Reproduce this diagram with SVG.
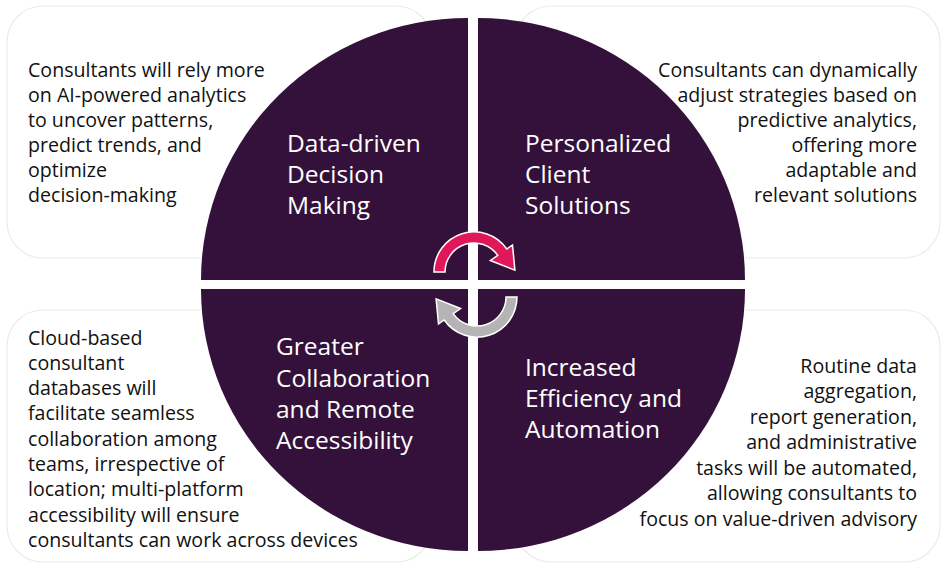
<svg xmlns="http://www.w3.org/2000/svg" width="947" height="568" viewBox="0 0 947 568">
<style>
.box{fill:#ffffff;stroke:#ebebeb;stroke-width:1.2}
.q{fill:#34113b}
.body{font-family:"Open Sans","Noto Sans","Liberation Sans",sans-serif;font-size:19.6px;fill:#111111}
.title{font-family:"Open Sans","Noto Sans","Liberation Sans",sans-serif;font-size:24.5px;fill:#ffffff}
.r{text-anchor:end}
</style>
<rect width="947" height="568" fill="#ffffff"/>
<g id="box-tl"><rect class="box" x="7" y="6" width="425" height="252" rx="36"/></g>
<g id="box-tr"><rect class="box" x="515" y="6" width="425" height="252" rx="36"/></g>
<g id="box-bl"><rect class="box" x="7" y="310" width="425" height="252" rx="36"/></g>
<g id="box-br"><rect class="box" x="515" y="310" width="425" height="252" rx="36"/></g>

<g id="node-data-driven">
<path class="q" d="M468,280 L201,280 A267 262 0 0 1 468,18 Z"/>
<text class="title"><tspan x="287" y="152">Data-driven</tspan><tspan x="287" y="183">Decision</tspan><tspan x="287" y="214">Making</tspan></text>
</g>
<g id="node-personalized">
<path class="q" d="M478,280 L478,18 A267 262 0 0 1 745,280 Z"/>
<text class="title"><tspan x="525" y="152">Personalized</tspan><tspan x="525" y="183">Client</tspan><tspan x="525" y="214">Solutions</tspan></text>
</g>
<g id="node-collaboration">
<path class="q" d="M468,289 L201,289 A267 262 0 0 0 468,551 Z"/>
<text class="title"><tspan x="276" y="355">Greater</tspan><tspan x="276" y="387">Collaboration</tspan><tspan x="276" y="418">and Remote</tspan><tspan x="276" y="449">Accessibility</tspan></text>
</g>
<g id="node-efficiency">
<path class="q" d="M478,289 L745,289 A267 262 0 0 1 478,551 Z"/>
<text class="title"><tspan x="525" y="376">Increased</tspan><tspan x="525" y="407">Efficiency and</tspan><tspan x="525" y="438">Automation</tspan></text>
</g>

<g id="desc-tl">
<text class="body"><tspan x="28" y="77">Consultants will rely more</tspan><tspan x="28" y="102">on AI-powered analytics</tspan><tspan x="28" y="127">to uncover patterns,</tspan><tspan x="28" y="152">predict trends, and</tspan><tspan x="28" y="177">optimize</tspan><tspan x="28" y="202">decision-making</tspan></text>
</g>
<g id="desc-tr">
<text class="body r"><tspan x="917" y="77">Consultants can dynamically</tspan><tspan x="917" y="102">adjust strategies based on</tspan><tspan x="917" y="127">predictive analytics,</tspan><tspan x="917" y="152">offering more</tspan><tspan x="917" y="177">adaptable and</tspan><tspan x="917" y="202">relevant solutions</tspan></text>
</g>
<g id="desc-bl">
<text class="body"><tspan x="28" y="345">Cloud-based</tspan><tspan x="28" y="370">consultant</tspan><tspan x="28" y="395">databases will</tspan><tspan x="28" y="420">facilitate seamless</tspan><tspan x="28" y="446">collaboration among</tspan><tspan x="28" y="471">teams, irrespective of</tspan><tspan x="28" y="496">location; multi-platform</tspan><tspan x="28" y="522">accessibility will ensure</tspan><tspan x="28" y="547">consultants can work across devices</tspan></text>
</g>
<g id="desc-br">
<text class="body r"><tspan x="917" y="373">Routine data</tspan><tspan x="917" y="398">aggregation,</tspan><tspan x="917" y="424">report generation,</tspan><tspan x="917" y="449">and administrative</tspan><tspan x="917" y="475">tasks will be automated,</tspan><tspan x="917" y="500">allowing consultants to</tspan><tspan x="917" y="526">focus on value-driven advisory</tspan></text>
</g>

<g id="connectors">
<path transform="translate(474,272)" fill="#e0185a" stroke="#ffffff" stroke-width="1.5" stroke-linejoin="miter" d="M-40,0 A40 40 0 0 1 32.8,-23 L38.5,-27 L40.9,-1.8 L16.4,-11.5 L23.8,-16.6 A29 29 0 0 0 -29,0 Z"/>
<path transform="translate(477,297) rotate(180)" fill="#b4b4b4" stroke="#ffffff" stroke-width="1.5" stroke-linejoin="miter" d="M-40,0 A40 40 0 0 1 32.8,-23 L38.5,-27 L40.9,-1.8 L16.4,-11.5 L23.8,-16.6 A29 29 0 0 0 -29,0 Z"/>
</g>
</svg>
